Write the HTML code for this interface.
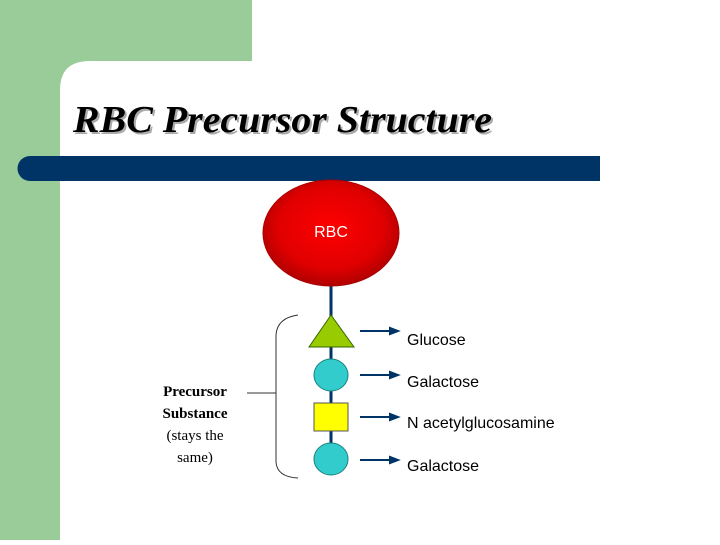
<!DOCTYPE html>
<html><head><style>
body{margin:0;width:720px;height:540px;overflow:hidden;background:#fff;}
</style></head><body>
<svg width="720" height="540" xmlns="http://www.w3.org/2000/svg">
<defs>
<radialGradient id="rg" cx="0.5" cy="0.45" r="0.55">
<stop offset="0" stop-color="#ff0000"/><stop offset="0.7" stop-color="#e00000"/><stop offset="1" stop-color="#b00000"/>
</radialGradient>
</defs>
<rect x="0" y="0" width="252" height="61" fill="#99cc99"/>
<rect x="0" y="0" width="60" height="540" fill="#99cc99"/>
<path d="M60 80 Q60 61 80 61 L252 61 L252 70 L70 70 Z" fill="#fff"/>
<path d="M60 90 L60 61 L90 61 Q60 61 60 90 Z" fill="#99cc99"/>
<path d="M30 156 L600 156 L600 181 L30 181 A12.5 12.5 0 0 1 30 156 Z" fill="#003366"/>
<text x="75" y="134" font-family="Liberation Serif" font-style="italic" font-weight="bold" font-size="38" fill="#aaa" textLength="419" lengthAdjust="spacingAndGlyphs">RBC Precursor Structure</text>
<text x="73" y="132" font-family="Liberation Serif" font-style="italic" font-weight="bold" font-size="38" fill="#000" textLength="419" lengthAdjust="spacingAndGlyphs">RBC Precursor Structure</text>
<line x1="331" y1="280" x2="331" y2="462" stroke="#003366" stroke-width="3"/>
<ellipse cx="331" cy="233" rx="68" ry="53" fill="url(#rg)" stroke="#a00" stroke-width="1"/>
<text x="331" y="237" text-anchor="middle" font-family="Liberation Sans" font-size="16" fill="#fff">RBC</text>
<polygon points="331,315 309,347 354,347" fill="#99cc00" stroke="#336600" stroke-width="1"/>
<ellipse cx="331" cy="375" rx="17" ry="16" fill="#33cccc" stroke="#1a8080" stroke-width="1"/>
<rect x="314" y="403" width="34" height="28" fill="#ffff00" stroke="#555" stroke-width="1"/>
<ellipse cx="331" cy="459" rx="17" ry="16" fill="#33cccc" stroke="#1a8080" stroke-width="1"/>
<path d="M298 315 Q277 318 276 335 L276 462 Q277 477 298 478" fill="none" stroke="#333" stroke-width="1"/>
<line x1="247" y1="393" x2="276" y2="393" stroke="#333" stroke-width="1"/>
<g stroke="#003366" stroke-width="2" fill="#003366">
<line x1="360" y1="331" x2="392" y2="331"/><polygon points="398,331 390,328 390,334"/>
<line x1="360" y1="375" x2="392" y2="375"/><polygon points="398,375 390,372 390,378"/>
<line x1="360" y1="417" x2="392" y2="417"/><polygon points="398,417 390,414 390,420"/>
<line x1="360" y1="460" x2="392" y2="460"/><polygon points="398,460 390,457 390,463"/>
</g>
<g font-family="Liberation Sans" font-size="16" fill="#000">
<text x="407" y="345">Glucose</text>
<text x="407" y="387">Galactose</text>
<text x="407" y="428">N acetylglucosamine</text>
<text x="407" y="471">Galactose</text>
</g>
<g font-family="Liberation Serif" font-size="15" fill="#000" text-anchor="middle">
<text x="195" y="396" font-weight="bold">Precursor</text>
<text x="195" y="418" font-weight="bold">Substance</text>
<text x="195" y="440">(stays the</text>
<text x="195" y="462">same)</text>
</g>
</svg>
</body></html>
